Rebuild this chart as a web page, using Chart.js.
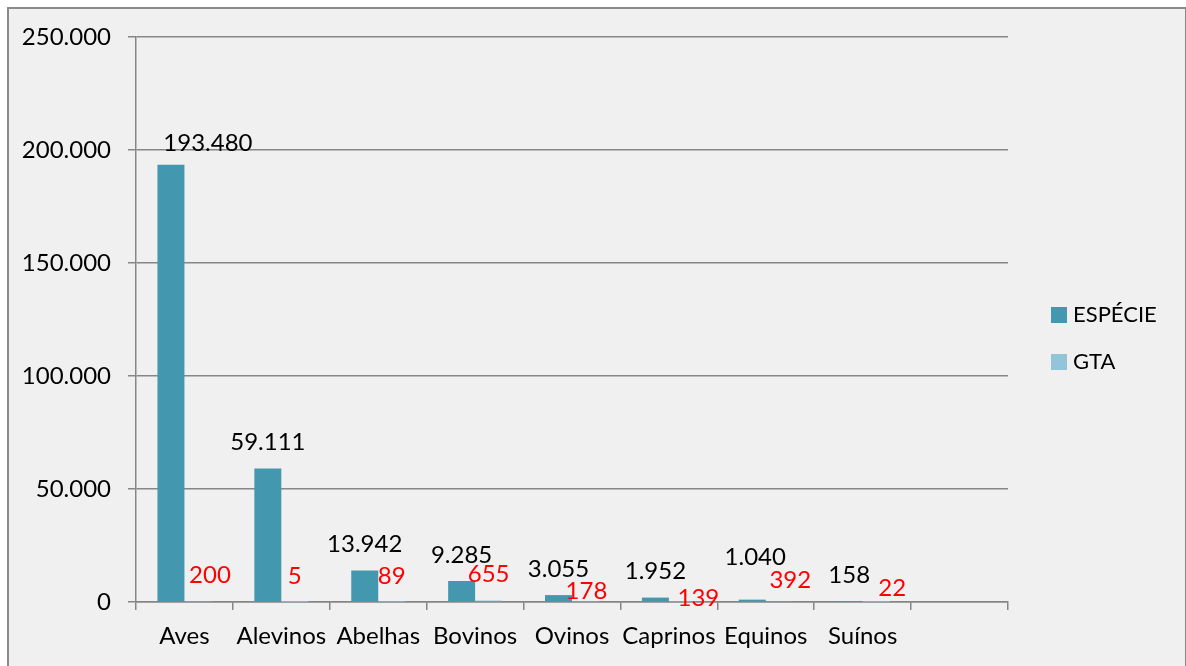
<!DOCTYPE html>
<html>
<head>
<meta charset="utf-8">
<script src="https://cdn.jsdelivr.net/npm/chart.js@4/dist/chart.umd.min.js"></script>
<style>
    body { margin: 0; background: #ffffff; }
    #moldura { position: absolute; left: 7px; top: 7px; width: 1176px; height: 680px; border: 2px solid #8a8a8a; background: #f0f0f0; }
    #grafico { position: absolute; left: 0; top: 0; }
</style>
</head>
<body>
<div id="moldura"></div>
<canvas id="grafico" width="1186" height="666"></canvas>
<script>
var categorias = ["Aves", "Alevinos", "Abelhas", "Bovinos", "Ovinos", "Caprinos", "Equinos", "Suínos", ""];
var especie = [193480, 59111, 13942, 9285, 3055, 1952, 1040, 158, null];
var gta = [200, 5, 89, 655, 178, 139, 392, 22, null];
var ticksY = [0, 50000, 100000, 150000, 200000, 250000];

// deslocamentos manuais dos rótulos (como no original)
var ajusteEspecie = [[37, 5], [0, 0], [0, 0], [0, 0], [0, 0], [0, 0], [3, -16], [0, 0], [0, 0]];
var ajusteGta = [[12, 0], [0, 0], [0, 0], [0, 0], [1, 16], [16, 23], [11, 5], [16, 12], [0, 0]];

var fonte = "Lato, 'Open Sans', sans-serif";
var cinza = "#868686";

function formatar(v) {
    return String(v).replace(/\B(?=(\d{3})+(?!\d))/g, ".");
}

var rotulos = {
    id: "rotulos",
    afterDatasetsDraw: function (chart) {
        var ctx = chart.ctx;
        ctx.save();
        ctx.font = "24px " + fonte;
        ctx.textAlign = "center";
        ctx.textBaseline = "middle";
        chart.data.datasets.forEach(function (ds, i) {
            var ajuste = i == 0 ? ajusteEspecie : ajusteGta;
            ctx.fillStyle = i == 0 ? "#000000" : "#ff0000";
            chart.getDatasetMeta(i).data.forEach(function (bar, j) {
                if (ds.data[j] == null) return;
                ctx.fillText(formatar(ds.data[j]), bar.x + ajuste[j][0], bar.y - 26 + ajuste[j][1]);
            });
        });
        ctx.restore();
    }
};

var legenda = {
    id: "legenda",
    afterDraw: function (chart) {
        var ctx = chart.ctx;
        ctx.save();
        ctx.font = "22px " + fonte;
        ctx.textBaseline = "middle";
        chart.data.datasets.forEach(function (ds, i) {
            var y = 315 + i * 47;
            ctx.fillStyle = ds.backgroundColor;
            ctx.fillRect(1051, y - 8, 16, 16);
            ctx.fillStyle = "#000000";
            ctx.fillText(ds.label, 1073, y);
        });
        ctx.restore();
    }
};

new Chart(document.getElementById("grafico"), {
    type: "bar",
    data: {
        labels: categorias,
        datasets: [
            { label: "ESPÉCIE", data: especie, backgroundColor: "#4398b0", categoryPercentage: 0.557, barPercentage: 1 },
            { label: "GTA", data: gta, backgroundColor: "#93c5d8", categoryPercentage: 0.557, barPercentage: 1 }
        ]
    },
    options: {
        responsive: false,
        animation: false,
        layout: { padding: { left: 0, top: 37, right: 178, bottom: 0 } },
        plugins: {
            legend: { display: false },
            tooltip: { enabled: false }
        },
        scales: {
            x: {
                grid: { display: true, drawOnChartArea: false, offset: true, tickLength: 8, color: cinza, lineWidth: 1.5 },
                border: { color: cinza, width: 1.5 },
                ticks: { color: "#000000", font: { family: fonte, size: 24 }, padding: 12, maxRotation: 0, autoSkip: false },
                afterFit: function (scale) { scale.height = 64; }
            },
            y: {
                min: 0,
                max: 250000,
                grid: { color: cinza, lineWidth: 1.5, tickLength: 8 },
                border: { color: cinza, width: 1.5 },
                ticks: { color: "#000000", font: { family: fonte, size: 24 }, padding: 17, callback: function (v) { return formatar(v); } },
                afterBuildTicks: function (scale) { scale.ticks = ticksY.map(function (v) { return { value: v }; }); },
                afterFit: function (scale) { scale.width = 136; }
            }
        }
    },
    plugins: [rotulos, legenda]
});
</script>
</body>
</html>
